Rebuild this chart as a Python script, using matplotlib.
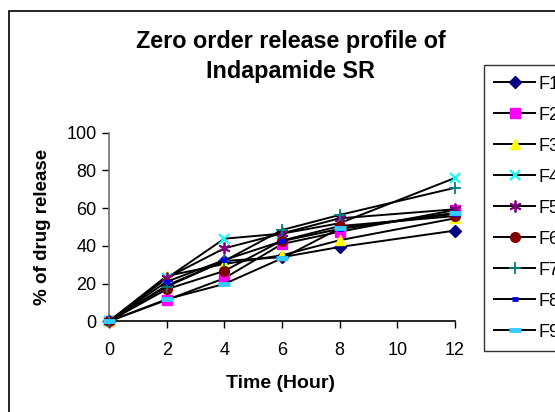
import matplotlib
matplotlib.use("Agg")
import matplotlib.pyplot as plt
from matplotlib.patches import Rectangle

time_hours = [0, 2, 4, 6, 8, 12]
labels = ["F1", "F2", "F3", "F4", "F5", "F6", "F7", "F8", "F9"]
F1 = [0, 19.0, 32.0, 34.0, 39.4, 48.1]
F2 = [0, 11.3, 22.8, 41.0, 47.5, 59.0]
F3 = [0, 24.0, 30.4, 35.0, 43.0, 54.6]
F4 = [0, 22.8, 43.8, 46.5, 52.0, 76.0]
F5 = [0, 23.0, 38.7, 46.6, 54.6, 59.4]
F6 = [0, 17.0, 26.7, 42.8, 50.5, 55.8]
F7 = [0, 18.4, 32.0, 48.4, 56.4, 70.8]
F8 = [0, 21.0, 32.5, 42.5, 49.0, 57.0]
F9 = [0, 11.7, 19.8, 33.4, 49.3, 57.5]
series = [F1, F2, F3, F4, F5, F6, F7, F8, F9]
x_ticks = [0, 2, 4, 6, 8, 10, 12]
y_ticks = [0, 20, 40, 60, 80, 100]

styles = [
    dict(marker="D", color="#000080", ms=6),
    dict(marker="s", color="#FF00FF", ms=6.5),
    dict(marker="^", color="#FFFF00", ms=7.5),
    dict(marker="x", color="#00FFFF", ms=7.5, mew=1.5),
    dict(marker=(6, 2, 0), color="#800080", ms=8.5, mew=1.3),
    dict(marker="o", color="#800000", ms=7),
    dict(marker="+", color="#008080", ms=8.5, mew=1.3),
    dict(marker="_", color="#0000FF", ms=5, mew=3.5),
    dict(marker="_", color="#33CCFF", ms=8, mew=3.5),
]

plt.rcParams["font.family"] = ["Liberation Sans", "DejaVu Sans"]
fig = plt.figure(figsize=(5.55, 4.12), dpi=100)
fig.patch.set_facecolor("white")
fig.patches.append(Rectangle((8.8 / 555, -0.1), 1.2, 1 - 10.5 / 412 + 0.1,
                             transform=fig.transFigure, fill=False,
                             edgecolor="black", linewidth=1.2))

ax = fig.add_axes([109 / 555, 1 - 321.3 / 412, (455 - 109) / 555, (321.3 - 132.7) / 412])
handles = []
for vals, lab, st in zip(series, labels, styles):
    h, = ax.plot(time_hours, vals, color="black", linewidth=1.4, marker=st["marker"],
                 markersize=st["ms"], markerfacecolor=st["color"],
                 markeredgecolor=st["color"], markeredgewidth=st.get("mew", 1.0),
                 label=lab, clip_on=False, zorder=3)
    handles.append(h)

ax.set_xlim(0, 12)
ax.set_ylim(0, 100)
ax.set_xticks(x_ticks)
ax.set_yticks(y_ticks)
ax.tick_params(axis="both", direction="out", length=5, width=1, labelsize=13, pad=4)
ax.tick_params(axis="x", pad=10)
for s in ["top", "right"]:
    ax.spines[s].set_visible(False)
ax.spines["left"].set_color("#707070")
ax.spines["bottom"].set_color("black")
ax.spines["left"].set_linewidth(1.2)
ax.spines["bottom"].set_linewidth(1.2)
ax.patch.set_alpha(0)

fig.text(290.8 / 555, 1 - 56.5 / 412, "Zero order release profile of\nIndapamide SR",
         ha="center", va="center", fontsize=16.8, fontweight="bold", linespacing=1.35)
fig.text(42.5 / 555, 1 - 226.7 / 412, "% of drug release", rotation=90,
         ha="center", va="center", fontsize=13.5, fontweight="bold")
fig.text(281 / 555, 1 - 383 / 412, "Time (Hour)", ha="center", va="center",
         fontsize=14, fontweight="bold")

leg = fig.legend(handles=handles, labels=labels, loc="upper left",
                 bbox_to_anchor=(483.5 / 555, 1 - 65.3 / 412), frameon=True,
                 fancybox=False, edgecolor="black", fontsize=13, labelspacing=0.775,
                 handlelength=2.28, handletextpad=0.2, borderpad=0.58,
                 borderaxespad=0)
leg.get_frame().set_linewidth(1.0)

fig.savefig("out.png", dpi=100)
